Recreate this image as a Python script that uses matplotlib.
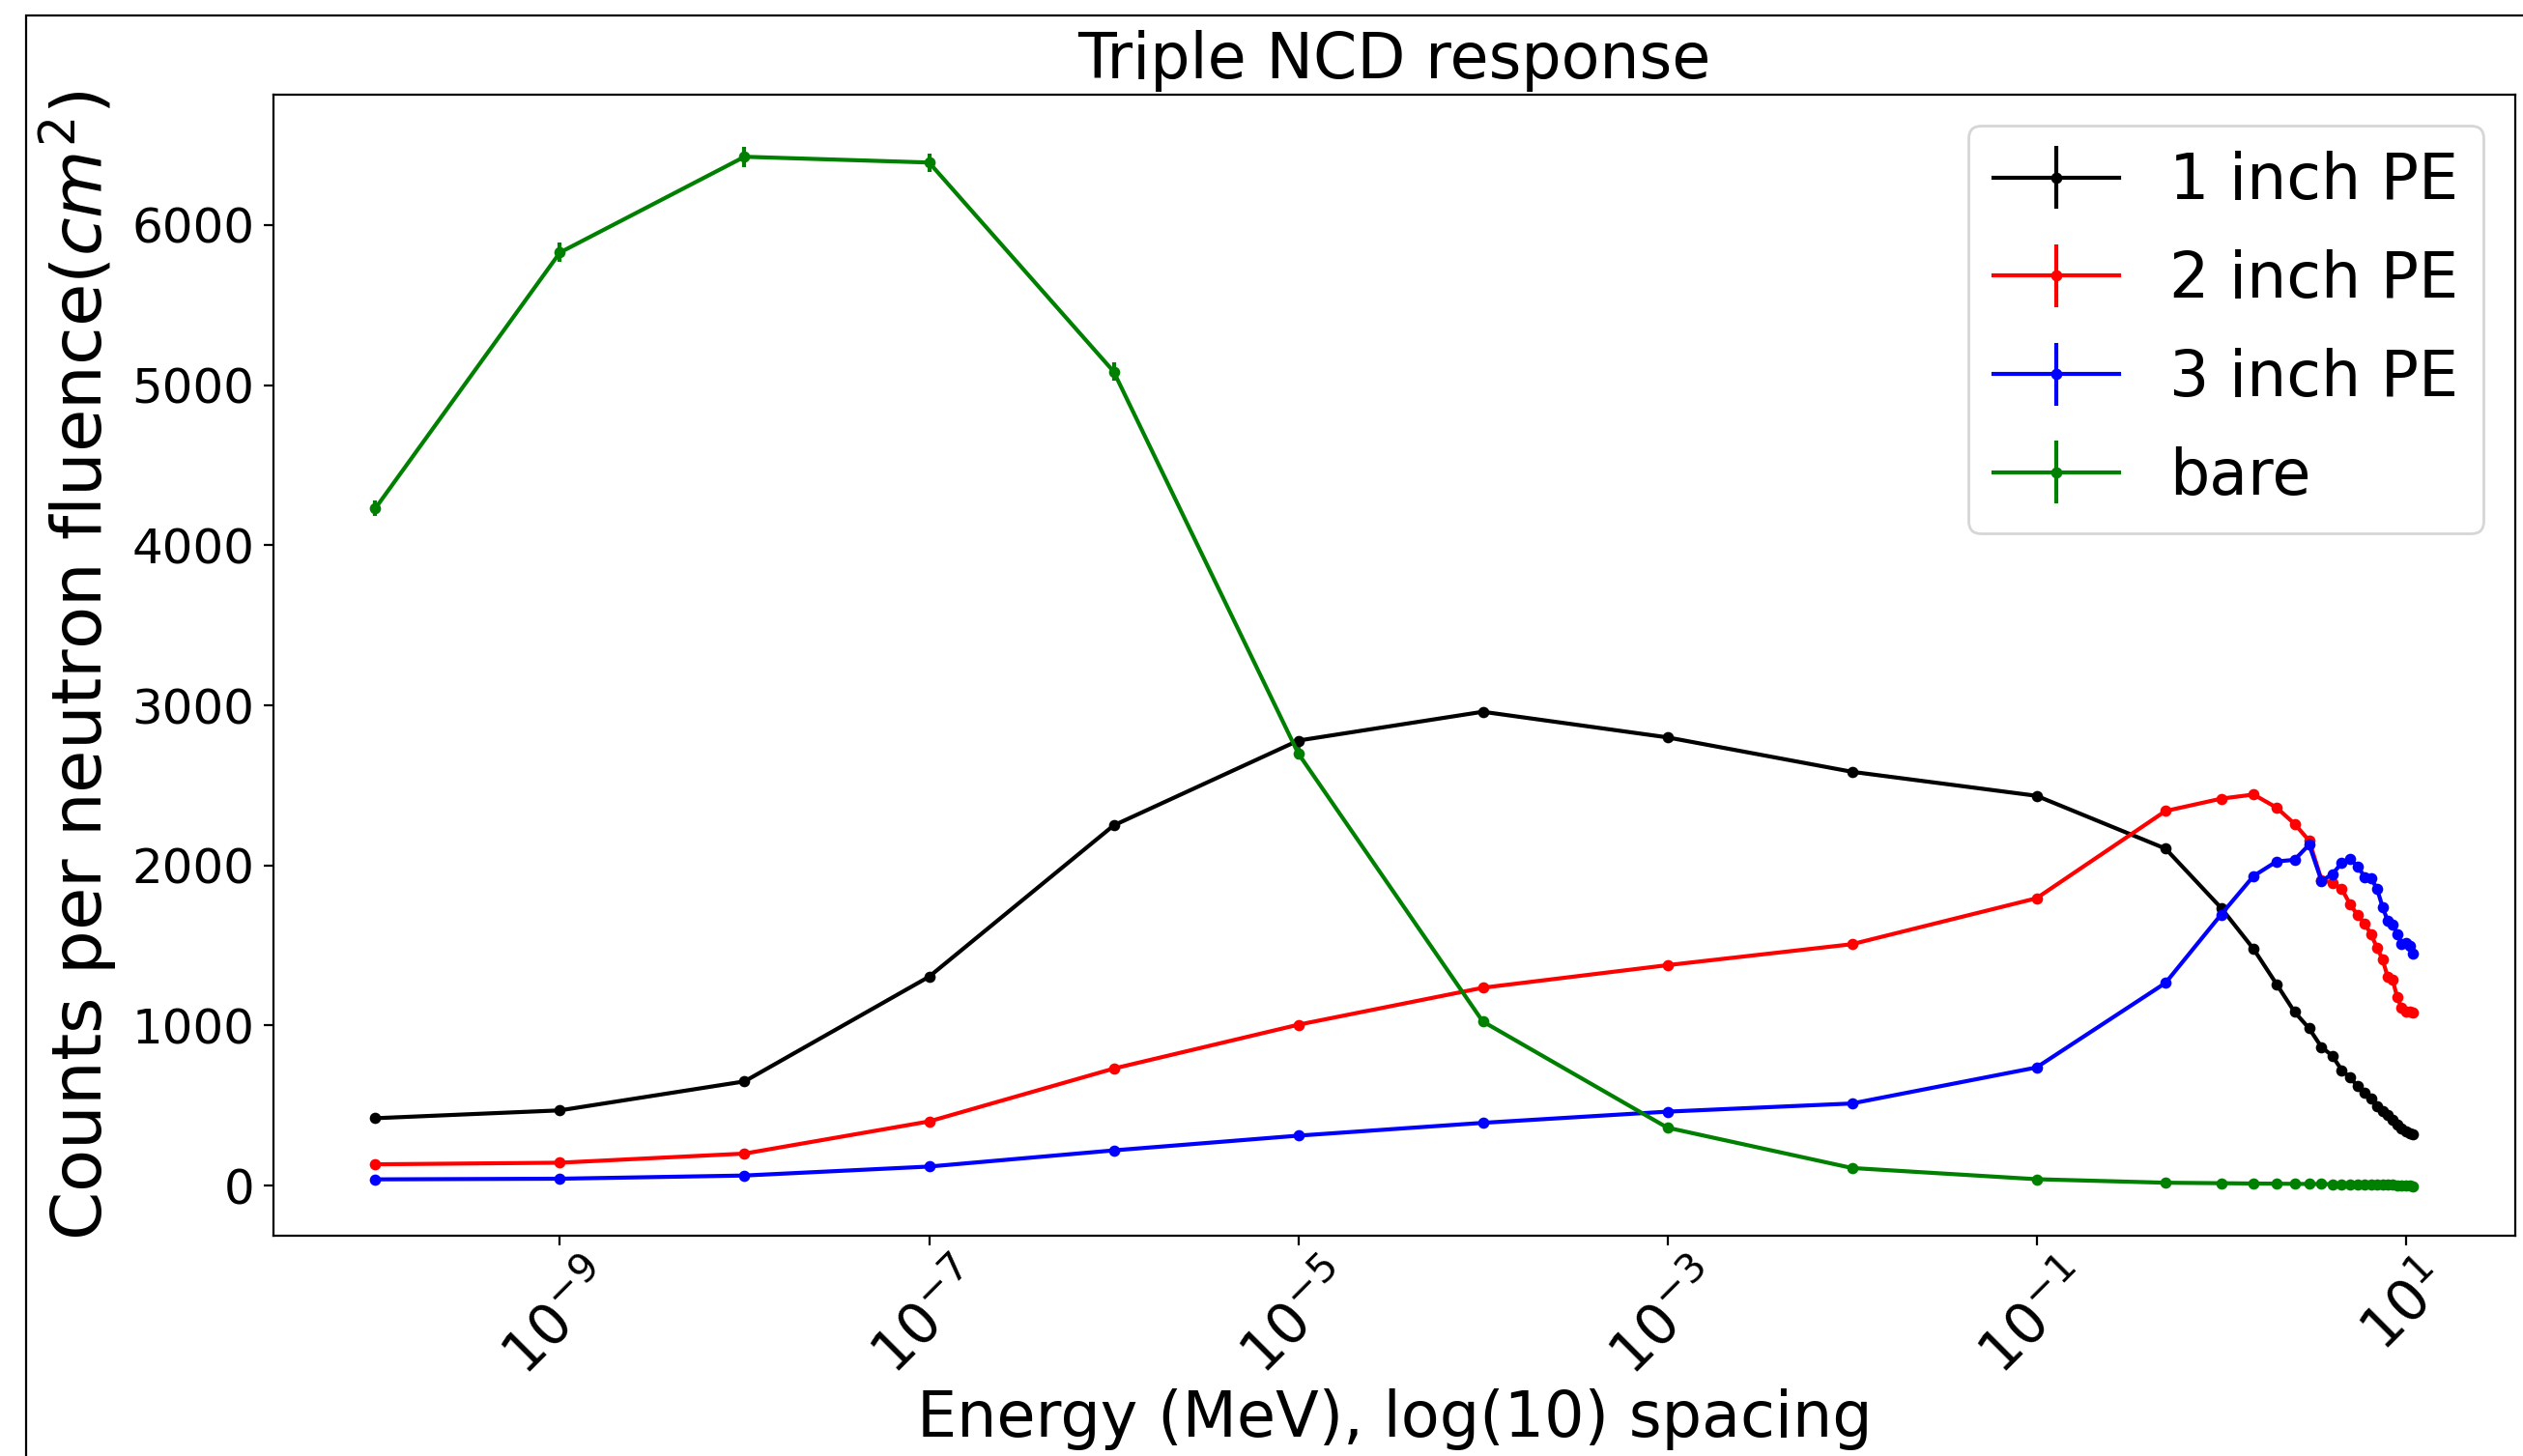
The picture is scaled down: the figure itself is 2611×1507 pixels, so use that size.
import numpy as np
import matplotlib
matplotlib.use("Agg")
import matplotlib.pyplot as plt
from matplotlib.patches import Rectangle

# ── Data ─────────────────────────────────────────────────
energy = [1e-10, 1e-9, 1e-8, 1e-7, 1e-6, 1e-5, 1e-4, 1e-3, 1e-2, 1e-1,
          0.5, 1.0, 1.5, 2.0, 2.5, 3.0, 3.5, 4.0, 4.5, 5.0, 5.5, 6.0,
          6.5, 7.0, 7.5, 8.0, 8.5, 9.0, 9.5, 10.0, 10.5, 11.0]

pe1 = [421, 470, 651, 1305, 2250, 2780, 2960, 2800, 2585, 2435,
       2105, 1735, 1478, 1258, 1085, 982, 865, 812, 722, 675, 620,
       578, 546, 498, 468, 440, 412, 382, 356, 338, 328, 322]
pe1_err = [10, 10, 12, 18, 22, 25, 25, 25, 24, 23,
           22, 20, 18, 17, 15, 15, 14, 13, 12, 12, 12,
           11, 11, 10, 10, 10, 9, 9, 9, 8, 8, 8]

pe2 = [133, 143, 200, 401, 731, 1005, 1236, 1377, 1508, 1795,
       2340, 2417, 2443, 2361, 2260, 2155, 1910, 1892, 1855, 1757, 1690,
       1635, 1570, 1484, 1413, 1302, 1285, 1178, 1110, 1088, 1090, 1082]
pe2_err = [6, 6, 7, 10, 14, 16, 18, 19, 20, 21,
           25, 25, 25, 25, 24, 24, 22, 22, 22, 21, 21,
           20, 20, 19, 19, 18, 18, 17, 17, 17, 17, 17]

pe3 = [39, 43, 63, 119, 220, 312, 392, 462, 513, 738,
       1266, 1693, 1934, 2025, 2035, 2130, 1904, 1944, 2015, 2039, 1994,
       1928, 1918, 1854, 1740, 1653, 1632, 1572, 1510, 1515, 1495, 1447]
pe3_err = [3, 3, 4, 6, 8, 9, 10, 11, 12, 14,
           18, 21, 22, 23, 23, 24, 22, 22, 23, 23, 23,
           22, 22, 22, 21, 20, 20, 20, 20, 20, 19, 19]

bare = [4231, 5829, 6427, 6391, 5085, 2700, 1025, 362, 110, 40,
        18, 15, 13, 12, 11, 10, 10, 9, 8, 8, 7,
        7, 6, 6, 5, 4, 4, 3, 2, 1, 0, -3]
bare_err = [50, 60, 63, 58, 55, 40, 25, 15, 8, 5,
            3, 3, 3, 3, 3, 3, 3, 3, 3, 3, 3,
            3, 3, 3, 3, 3, 3, 3, 3, 3, 3, 3]

series = [
    ("1 inch PE", pe1, pe1_err, "black"),
    ("2 inch PE", pe2, pe2_err, "red"),
    ("3 inch PE", pe3, pe3_err, "blue"),
    ("bare",      bare, bare_err, "green"),
]

xticks = [1e-9, 1e-7, 1e-5, 1e-3, 1e-1, 1e1]
yticks = [0, 1000, 2000, 3000, 4000, 5000, 6000]

# ── Figure ───────────────────────────────────────────────
fig = plt.figure(figsize=(13.055, 7.535), dpi=200)
ax = fig.add_axes([0.1084, 0.1513, 0.8885, 0.7837])

for label, vals, err, color in series:
    ax.errorbar(energy, vals, yerr=err, fmt="o-", color=color, label=label,
                ms=4.2, mew=0, lw=1.5, elinewidth=1.5, capsize=0)

ax.set_xscale("log")
ax.set_xticks(xticks)
ax.xaxis.set_minor_locator(matplotlib.ticker.NullLocator())
ax.set_yticks(yticks)
ax.set_ylim(-313, 6815)
ax.tick_params(axis="y", labelsize=18)
ax.tick_params(axis="x", labelsize=21)
plt.setp(ax.get_xticklabels(), rotation=45)

ax.set_title("Triple NCD response", fontsize=23.4)
ax.set_xlabel("Energy (MeV), log(10) spacing", fontsize=23.5)
ax.xaxis.set_label_coords(0.5, -0.134)
ax.set_ylabel("Counts per neutron fluence($cm^2$)", fontsize=26)
ax.legend(loc="upper right", fontsize=23.4, labelspacing=0.58)

# outer frame seen at the top/left of the screenshot
fig.patches.append(Rectangle((27 / 2611, -0.2), 1.5, 1.2 - 16 / 1507,
                             transform=fig.transFigure, fill=False,
                             edgecolor="black", lw=0.8))

fig.savefig("out.png", dpi=200)
